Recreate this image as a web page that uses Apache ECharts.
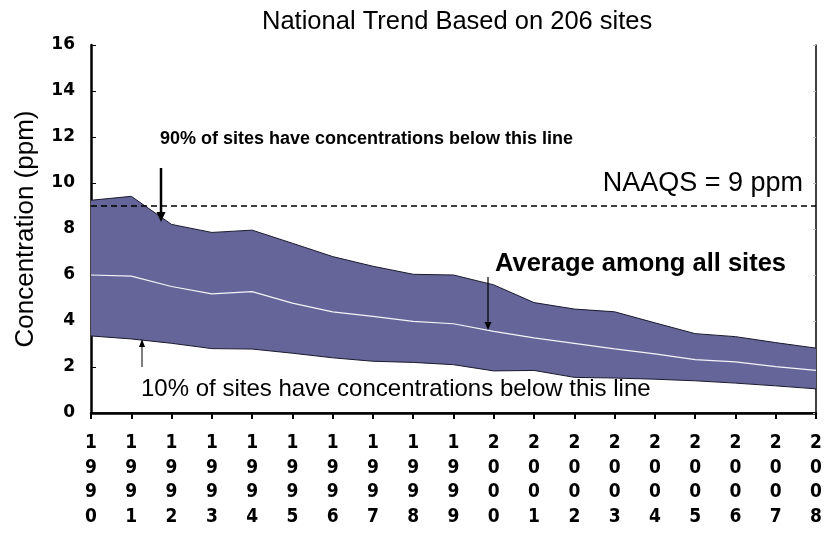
<!DOCTYPE html>
<html>
<head>
<meta charset="utf-8">
<script src="https://cdn.jsdelivr.net/npm/echarts@6/dist/echarts.min.js"></script>
<style>html,body{margin:0;padding:0;background:#fff;}#c{width:825px;height:542px;}</style>
</head>
<body>
<div id="c"></div>
<script>
const years = ['1990','1991','1992','1993','1994','1995','1996','1997','1998','1999','2000','2001','2002','2003','2004','2005','2006','2007','2008'];
const p90 = [9.25, 9.42, 8.2, 7.85, 7.95, 7.38, 6.8, 6.38, 6.03, 6.0, 5.57, 4.8, 4.52, 4.4, 3.92, 3.45, 3.32, 3.06, 2.82];
const avg = [6.0, 5.95, 5.5, 5.18, 5.28, 4.78, 4.4, 4.2, 3.98, 3.88, 3.55, 3.27, 3.03, 2.79, 2.57, 2.32, 2.22, 2.02, 1.85];
const p10 = [3.35, 3.22, 3.03, 2.8, 2.78, 2.6, 2.4, 2.25, 2.2, 2.1, 1.83, 1.85, 1.55, 1.52, 1.47, 1.4, 1.3, 1.18, 1.05];
const naaqs = 9;
const yTicks = [0, 2, 4, 6, 8, 10, 12, 14, 16];

const bandWidth = p90.map((v, i) => +(v - p10[i]).toFixed(3));

function arrow(x, yFrom, yTip, w, hw, hh) {
  const dir = yTip > yFrom ? 1 : -1;
  return [
    { type: 'line', shape: { x1: x, y1: yFrom, x2: x, y2: yTip - dir * hh * 0.8 }, style: { stroke: '#000', lineWidth: w }, z: 100 },
    { type: 'polygon', shape: { points: [[x - hw / 2, yTip - dir * hh], [x + hw / 2, yTip - dir * hh], [x, yTip]] }, style: { fill: '#000' }, z: 100 }
  ];
}

const chart = echarts.init(document.getElementById('c'), null, { renderer: 'canvas' });
const FONT = '"Liberation Sans", Arial, sans-serif';
chart.setOption({
  animation: false,
  backgroundColor: '#fff',
  title: {
    text: 'National Trend Based on 206 sites',
    left: 257, top: 4,
    textStyle: { fontFamily: FONT, fontSize: 25.5, fontWeight: 'normal', color: '#000' }
  },
  grid: { left: 91, right: 9, top: 45, bottom: 129, containLabel: false },
  xAxis: [{
    type: 'category', data: years, boundaryGap: false,
    axisLine: { lineStyle: { color: '#000', width: 2.5 } },
    axisTick: { show: true, inside: false, length: 6, interval: 0, lineStyle: { color: '#000', width: 2 } },
    axisLabel: {
      interval: 0, margin: 18, color: '#000',
      fontFamily: '"DejaVu Sans Condensed", "DejaVu Sans", sans-serif',
      fontWeight: 'bold', fontSize: 19, lineHeight: 24.5,
      verticalAlign: 'top',
      formatter: v => v.split('').join('\n')
    },
    splitLine: { show: false }
  }, {
    type: 'category', data: years, boundaryGap: false, position: 'top',
    axisLine: { lineStyle: { color: '#000', width: 1.5 } },
    axisTick: { show: false }, axisLabel: { show: false }, splitLine: { show: false }
  }],
  yAxis: [{
    type: 'value', min: 0, max: 16, interval: 2,
    name: 'Concentration (ppm)', nameLocation: 'middle', nameGap: 52,
    nameTextStyle: { fontFamily: FONT, fontSize: 26, color: '#000' },
    axisLine: { show: true, lineStyle: { color: '#000', width: 2.5 } },
    axisTick: { show: true, inside: true, length: 5, lineStyle: { color: '#000', width: 1 } },
    axisLabel: {
      margin: 16, color: '#000',
      fontFamily: '"DejaVu Sans", sans-serif', fontWeight: 'bold', fontSize: 17,
      formatter: v => yTicks.includes(v) ? String(v) : ''
    },
    splitLine: { show: false }
  }, {
    type: 'value', min: 0, max: 16, interval: 2, position: 'right',
    axisLine: { show: true, lineStyle: { color: '#000', width: 1.5 } },
    axisTick: { show: true, inside: true, length: 3, lineStyle: { color: '#bbb', width: 1 } },
    axisLabel: { show: false }, splitLine: { show: false }
  }],
  series: [{
    name: '10th percentile', type: 'line', stack: 'band', data: p10,
    symbol: 'none', lineStyle: { color: '#1a1a2e', width: 1 }, z: 3
  }, {
    name: '90th percentile', type: 'line', stack: 'band', data: bandWidth,
    symbol: 'none', lineStyle: { color: '#1a1a2e', width: 1 },
    areaStyle: { color: '#65659a', opacity: 1 }, z: 2
  }, {
    name: 'Average', type: 'line', data: avg,
    symbol: 'none', lineStyle: { color: '#f4f4f8', width: 1.2 }, z: 4,
    markLine: {
      silent: true, symbol: ['none', 'none'], label: { show: false },
      lineStyle: { color: '#000', type: [6, 4], width: 1.5 },
      data: [{ yAxis: naaqs }]
    }
  }],
  graphic: [
    { type: 'text', left: 160, top: 130, style: { text: '90% of sites have concentrations below this line', font: 'bold 18px "Liberation Sans", Arial, sans-serif', fill: '#000' }, z: 100 },
    { type: 'text', right: 22, top: 170, style: { text: 'NAAQS = 9 ppm', font: '27px "Liberation Sans", Arial, sans-serif', fill: '#000' }, z: 100 },
    { type: 'text', left: 495, top: 251, style: { text: 'Average among all sites', font: 'bold 25.5px "Liberation Sans", Arial, sans-serif', fill: '#000' }, z: 100 },
    { type: 'text', left: 141, top: 377, style: { text: '10% of sites have concentrations below this line', font: '24px "Liberation Sans", Arial, sans-serif', fill: '#000' }, z: 100 },
    ...arrow(161, 168, 222, 2.5, 9, 10),
    ...arrow(488, 277, 330, 1.2, 7, 8),
    ...arrow(142, 367, 339, 1, 6, 8)
  ]
});
</script>
</body>
</html>
